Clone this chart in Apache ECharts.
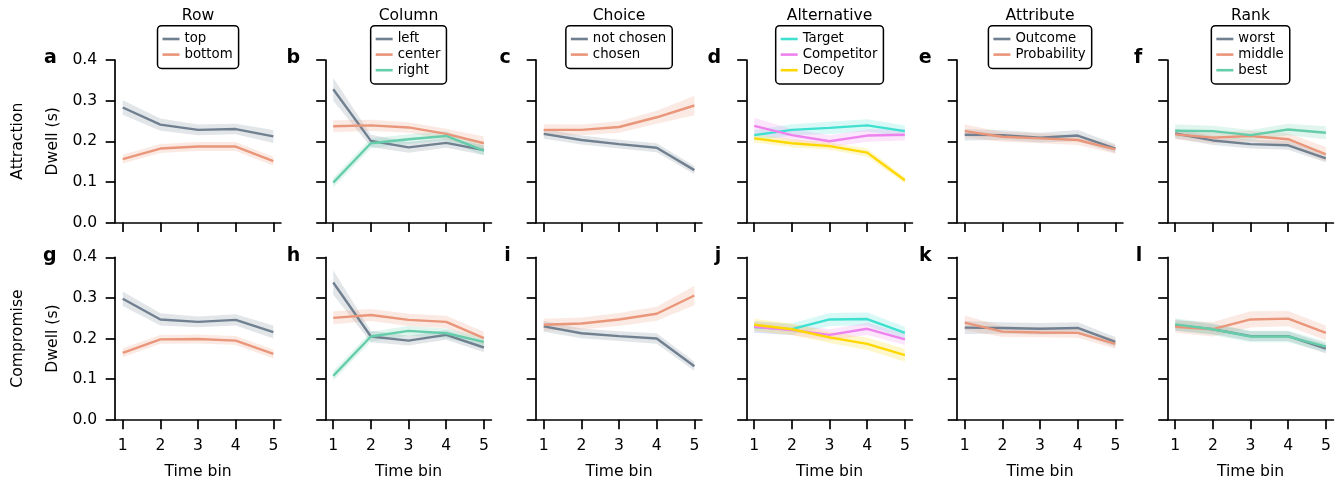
<!DOCTYPE html>
<html>
<head>
<meta charset="utf-8">
<script src="https://cdn.jsdelivr.net/npm/echarts@6/dist/echarts.min.js"></script>
<style>
html,body{margin:0;padding:0;background:#fff;}
#chart{width:1341px;height:485px;}
</style>
</head>
<body>
<div id="chart"></div>
<script>
// ---------- labels ----------
const timeBins = [1, 2, 3, 4, 5];
const yTicks = [0.0, 0.1, 0.2, 0.3, 0.4];
const panelTitles = ['Row', 'Column', 'Choice', 'Alternative', 'Attribute', 'Rank'];
const rowLabels = ['Attraction', 'Compromise'];
const panelLetters = ['a','b','c','d','e','f','g','h','i','j','k','l'];
const xAxisTitle = 'Time bin';
const yAxisTitle = 'Dwell (s)';

const rowNames = ['top', 'bottom'];
const columnNames = ['left', 'center', 'right'];
const choiceNames = ['not chosen', 'chosen'];
const altNames = ['Target', 'Competitor', 'Decoy'];
const attrNames = ['Outcome', 'Probability'];
const rankNames = ['worst', 'middle', 'best'];

// ---------- Attraction (top row) ----------
const a_top = [0.283, 0.241, 0.228, 0.230, 0.212];
const a_top_ci = [0.018, 0.015, 0.013, 0.013, 0.016];
const a_bottom = [0.156, 0.182, 0.187, 0.187, 0.151];
const a_bottom_ci = [0.011, 0.011, 0.011, 0.011, 0.011];

const b_left = [0.328, 0.201, 0.185, 0.196, 0.178];
const b_left_ci = [0.028, 0.015, 0.013, 0.012, 0.012];
const b_center = [0.237, 0.239, 0.234, 0.218, 0.195];
const b_center_ci = [0.015, 0.014, 0.013, 0.013, 0.017];
const b_right = [0.098, 0.195, 0.205, 0.213, 0.177];
const b_right_ci = [0.012, 0.012, 0.012, 0.012, 0.012];

const c_notChosen = [0.218, 0.203, 0.193, 0.184, 0.129];
const c_notChosen_ci = [0.012, 0.011, 0.011, 0.011, 0.010];
const c_chosen = [0.228, 0.228, 0.235, 0.259, 0.288];
const c_chosen_ci = [0.014, 0.013, 0.014, 0.016, 0.024];

const d_target = [0.215, 0.228, 0.233, 0.239, 0.225];
const d_target_ci = [0.013, 0.014, 0.015, 0.015, 0.014];
const d_competitor = [0.238, 0.215, 0.200, 0.214, 0.216];
const d_competitor_ci = [0.020, 0.015, 0.015, 0.015, 0.014];
const d_decoy = [0.207, 0.195, 0.188, 0.172, 0.104];
const d_decoy_ci = [0.010, 0.010, 0.009, 0.010, 0.008];

const e_outcome = [0.216, 0.215, 0.209, 0.214, 0.182];
const e_outcome_ci = [0.014, 0.012, 0.012, 0.014, 0.011];
const e_probability = [0.225, 0.211, 0.207, 0.203, 0.180];
const e_probability_ci = [0.016, 0.012, 0.012, 0.012, 0.011];

const f_worst = [0.219, 0.202, 0.193, 0.190, 0.158];
const f_worst_ci = [0.012, 0.011, 0.011, 0.011, 0.010];
const f_middle = [0.217, 0.209, 0.213, 0.205, 0.168];
const f_middle_ci = [0.012, 0.013, 0.013, 0.015, 0.018];
const f_best = [0.226, 0.225, 0.215, 0.229, 0.221];
const f_best_ci = [0.015, 0.013, 0.013, 0.014, 0.016];

// ---------- Compromise (bottom row) ----------
const g_top = [0.298, 0.247, 0.241, 0.246, 0.216];
const g_top_ci = [0.018, 0.015, 0.013, 0.014, 0.016];
const g_bottom = [0.165, 0.198, 0.199, 0.195, 0.162];
const g_bottom_ci = [0.011, 0.011, 0.011, 0.011, 0.011];

const h_left = [0.338, 0.205, 0.195, 0.209, 0.178];
const h_left_ci = [0.030, 0.014, 0.012, 0.012, 0.012];
const h_center = [0.251, 0.258, 0.246, 0.241, 0.201];
const h_center_ci = [0.016, 0.015, 0.015, 0.015, 0.016];
const h_right = [0.108, 0.205, 0.219, 0.213, 0.192];
const h_right_ci = [0.012, 0.012, 0.012, 0.012, 0.012];

const i_notChosen = [0.230, 0.213, 0.206, 0.200, 0.132];
const i_notChosen_ci = [0.013, 0.012, 0.012, 0.013, 0.011];
const i_chosen = [0.234, 0.237, 0.247, 0.261, 0.306];
const i_chosen_ci = [0.015, 0.015, 0.016, 0.017, 0.024];

const j_target = [0.228, 0.223, 0.247, 0.248, 0.214];
const j_target_ci = [0.014, 0.014, 0.016, 0.016, 0.015];
const j_competitor = [0.229, 0.221, 0.209, 0.224, 0.198];
const j_competitor_ci = [0.014, 0.013, 0.014, 0.015, 0.014];
const j_decoy = [0.234, 0.223, 0.203, 0.187, 0.159];
const j_decoy_ci = [0.015, 0.014, 0.014, 0.015, 0.016];

const k_outcome = [0.227, 0.226, 0.224, 0.226, 0.192];
const k_outcome_ci = [0.016, 0.014, 0.014, 0.014, 0.012];
const k_probability = [0.239, 0.217, 0.215, 0.214, 0.187];
const k_probability_ci = [0.018, 0.013, 0.012, 0.012, 0.012];

const l_worst = [0.233, 0.223, 0.206, 0.206, 0.175];
const l_worst_ci = [0.014, 0.012, 0.012, 0.012, 0.012];
const l_middle = [0.229, 0.223, 0.247, 0.249, 0.214];
const l_middle_ci = [0.015, 0.018, 0.020, 0.019, 0.018];
const l_best = [0.235, 0.223, 0.205, 0.205, 0.180];
const l_best_ci = [0.015, 0.014, 0.014, 0.014, 0.013];

// ---------- colours ----------
const SLATE = '#708090', SALMON = '#E9967A', AQUA = '#66CDAA';
const TURQ = '#40E0D0', VIOLET = '#EE82EE', GOLD = '#FFD700';

const FONT = 'DejaVu Sans';
const FS = 15.6, LFS = 13.3;

// panel definitions (column-wise)
const columns = [
  { names: rowNames, colors: [SLATE, SALMON],
    rows: [[[a_top, a_top_ci], [a_bottom, a_bottom_ci]],
           [[g_top, g_top_ci], [g_bottom, g_bottom_ci]]] },
  { names: columnNames, colors: [SLATE, SALMON, AQUA],
    rows: [[[b_left, b_left_ci], [b_center, b_center_ci], [b_right, b_right_ci]],
           [[h_left, h_left_ci], [h_center, h_center_ci], [h_right, h_right_ci]]] },
  { names: choiceNames, colors: [SLATE, SALMON],
    rows: [[[c_notChosen, c_notChosen_ci], [c_chosen, c_chosen_ci]],
           [[i_notChosen, i_notChosen_ci], [i_chosen, i_chosen_ci]]] },
  { names: altNames, colors: [TURQ, VIOLET, GOLD],
    rows: [[[d_target, d_target_ci], [d_competitor, d_competitor_ci], [d_decoy, d_decoy_ci]],
           [[j_target, j_target_ci], [j_competitor, j_competitor_ci], [j_decoy, j_decoy_ci]]] },
  { names: attrNames, colors: [SLATE, SALMON],
    rows: [[[e_outcome, e_outcome_ci], [e_probability, e_probability_ci]],
           [[k_outcome, k_outcome_ci], [k_probability, k_probability_ci]]] },
  { names: rankNames, colors: [SLATE, SALMON, AQUA],
    rows: [[[f_worst, f_worst_ci], [f_middle, f_middle_ci], [f_best, f_best_ci]],
           [[l_worst, l_worst_ci], [l_middle, l_middle_ci], [l_best, l_best_ci]]] }
];

// ---------- layout ----------
const GRID_LEFT0 = 115.2, COL_STEP = 210.5, GRID_W = 165.7;
const ROW_TOP = [60, 257.3], GRID_H = 162.5;

const grids = [], xAxes = [], yAxes = [], series = [], legends = [], graphics = [];

const mctx = document.createElement('canvas').getContext('2d');
mctx.font = LFS + 'px "' + FONT + '"';

for (let r = 0; r < 2; r++) {
  for (let c = 0; c < 6; c++) {
    const idx = r * 6 + c;
    const left = GRID_LEFT0 + c * COL_STEP;
    const top = ROW_TOP[r];
    grids.push({ left: left, top: top, width: GRID_W, height: GRID_H });
    xAxes.push({
      type: 'value', gridIndex: idx, min: 0.8, max: 5.2,
      axisLine: { show: true, onZero: false, lineStyle: { color: '#000', width: 1.7 } },
      axisTick: { show: true, customValues: timeBins, length: 9.5, lineStyle: { color: '#000', width: 1.7 } },
      axisLabel: { show: r === 1, customValues: timeBins, margin: 18, color: '#000', fontSize: FS, fontFamily: FONT },
      splitLine: { show: false },
      name: r === 1 ? xAxisTitle : '', nameLocation: 'middle', nameGap: 44,
      nameTextStyle: { color: '#000', fontSize: FS, fontFamily: FONT }
    });
    yAxes.push({
      type: 'value', gridIndex: idx, min: yTicks[0], max: yTicks[yTicks.length - 1], interval: 0.1,
      axisLine: { show: true, lineStyle: { color: '#000', width: 1.7 } },
      axisTick: { show: true, length: 9.5, lineStyle: { color: '#000', width: 1.7 } },
      axisLabel: { show: c === 0, margin: 18, color: '#000', fontSize: FS, fontFamily: FONT,
                   formatter: v => v.toFixed(1) },
      splitLine: { show: false }
    });
    const col = columns[c];
    col.rows[r].forEach((pair, s) => {
      const mean = pair[0], ci = pair[1], color = col.colors[s];
      series.push({
        type: 'custom', name: 'band-' + idx + '-' + s, xAxisIndex: idx, yAxisIndex: idx,
        silent: true,
        data: timeBins.map((x, i) => [x, mean[i] - ci[i], mean[i] + ci[i]]),
        encode: { x: 0, y: [1, 2] },
        renderItem: function (params, api) {
          if (params.dataIndex !== 0) return null;
          const up = timeBins.map((x, i) => api.coord([x, mean[i] + ci[i]]));
          const lo = timeBins.map((x, i) => api.coord([x, mean[i] - ci[i]])).reverse();
          return { type: 'polygon', shape: { points: up.concat(lo) },
                   style: { fill: color, opacity: 0.2 } };
        }
      });
      series.push({
        type: 'line', name: col.names[s], xAxisIndex: idx, yAxisIndex: idx,
        data: timeBins.map((x, i) => [x, mean[i]]),
        symbol: 'none', showSymbol: false,
        lineStyle: { color: color, width: 2.4 },
        itemStyle: { color: color }
      });
    });
    // panel letter
    const letterRight = c === 0 ? left - 58.5 : left - 25.5;
    graphics.push({
      type: 'text', x: letterRight, y: top - 1.5,
      style: { text: panelLetters[idx], fill: '#000', font: 'bold 19px "' + FONT + '"',
               textAlign: 'right', textVerticalAlign: 'middle' }
    });
    if (r === 0) {
      const cx = left + GRID_W / 2;
      graphics.push({
        type: 'text', x: cx, y: 15.5,
        style: { text: panelTitles[c], fill: '#000', font: FS + 'px "' + FONT + '"',
                 textAlign: 'center', textVerticalAlign: 'middle' }
      });
      const tw = Math.max.apply(null, col.names.map(n => mctx.measureText(n).width));
      const w = 5 + 17 + 5 + tw + 6;
      legends.push({
        data: col.names, orient: 'vertical', left: cx - w / 2, top: 25.7,
        selectedMode: false, icon: 'rect', itemWidth: 17, itemHeight: 2.6, itemGap: 0,
        padding: [5.5, 6, 6, 5], borderColor: '#000', borderWidth: 1.5, borderRadius: 4,
        backgroundColor: '#fff',
        textStyle: { color: '#000', fontSize: LFS, fontFamily: FONT, lineHeight: 15.6 }
      });
    }
    if (c === 0) {
      const cy = top + GRID_H / 2;
      graphics.push({
        type: 'text', x: 18, y: cy, rotation: Math.PI / 2,
        style: { text: rowLabels[r], fill: '#000', font: FS + 'px "' + FONT + '"',
                 textAlign: 'center', textVerticalAlign: 'middle' }
      });
      graphics.push({
        type: 'text', x: 53, y: cy, rotation: Math.PI / 2,
        style: { text: yAxisTitle, fill: '#000', font: FS + 'px "' + FONT + '"',
                 textAlign: 'center', textVerticalAlign: 'middle' }
      });
    }
  }
}

const chart = echarts.init(document.getElementById('chart'), null, { renderer: 'canvas' });
chart.setOption({
  animation: false,
  backgroundColor: '#fff',
  grid: grids,
  xAxis: xAxes,
  yAxis: yAxes,
  legend: legends,
  series: series,
  graphic: graphics
});
</script>
</body>
</html>
